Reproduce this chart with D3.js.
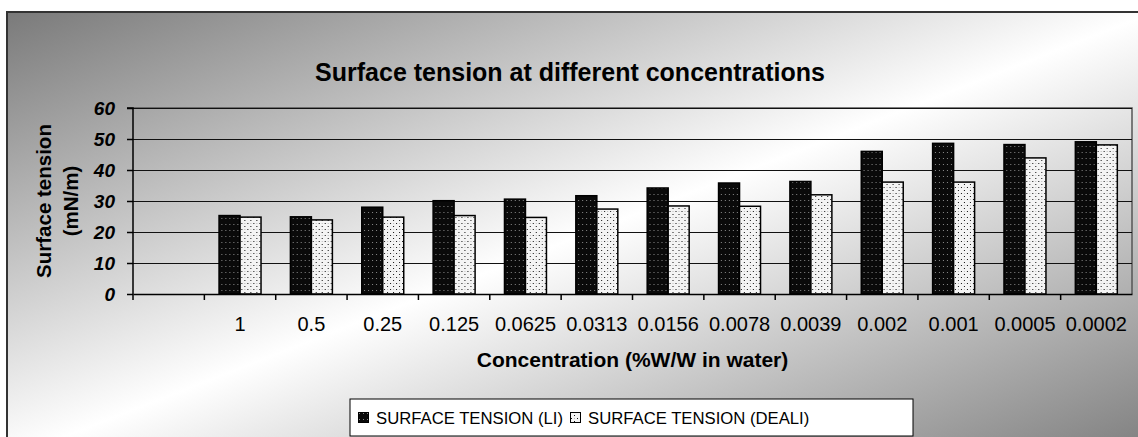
<!DOCTYPE html>
<html>
<head>
<meta charset="utf-8">
<script src="https://cdn.jsdelivr.net/npm/d3@7"></script>
<style>
	body { margin:0; padding:0; background:#fff; }
	text { font-family: Arial, "Liberation Sans", sans-serif; fill:#000; }
</style>
</head>
<body>
<div id="chart"></div>
<script>
'use strict';

// data
var categories = ['', '1', '0.5', '0.25', '0.125', '0.0625', '0.0313', '0.0156', '0.0078', '0.0039', '0.002', '0.001', '0.0005', '0.0002'];
var seriesNames = ['SURFACE TENSION (LI)', 'SURFACE TENSION (DEALI)'];
var tensionLI =    [null, 25.3, 24.9, 28.0, 30.1, 30.6, 31.7, 34.2, 35.8, 36.3, 46.0, 48.6, 48.2, 49.1];
var tensionDEALI = [null, 24.8, 23.9, 24.8, 25.3, 24.7, 27.4, 28.4, 28.3, 32.0, 36.1, 36.1, 43.9, 48.1];
var yTicks = [0, 10, 20, 30, 40, 50, 60];

main();

function main(){
	//configuration
	var width = 1138,
		height = 437,
		margin = {
			top:108,
			left:133,
			bottom:143,
			right:6
		},
		plotW = width - margin.left - margin.right,
		plotH = height - margin.top - margin.bottom;

	var svg = d3.select('#chart')
		.append('svg')
			.attr('width', width)
			.attr('height', height);

	var defs = svg.append('defs');

	var grad = defs.append('linearGradient')
		.attr('id', 'bg')
		.attr('x1', 0).attr('y1', 0)
		.attr('x2', 1).attr('y2', 1);
	grad.append('stop').attr('offset', 0).attr('stop-color', '#7a7a7a');
	grad.append('stop').attr('offset', 0.5).attr('stop-color', '#ffffff');
	grad.append('stop').attr('offset', 1).attr('stop-color', '#7c7c7c');

	// dotted fills
	var pDark = defs.append('pattern')
		.attr('id', 'dark')
		.attr('patternUnits', 'userSpaceOnUse')
		.attr('width', 4).attr('height', 6);
	pDark.append('rect').attr('width', 4).attr('height', 6).attr('fill', '#0a0a0a');
	pDark.append('rect').attr('x', 1).attr('y', 2).attr('width', 1).attr('height', 1).attr('fill', '#8a8a8a');

	var pLight = defs.append('pattern')
		.attr('id', 'light')
		.attr('patternUnits', 'userSpaceOnUse')
		.attr('width', 6).attr('height', 6);
	pLight.append('rect').attr('width', 6).attr('height', 6).attr('fill', '#f4f4f4');
	pLight.append('rect').attr('x', 1).attr('y', 1).attr('width', 1).attr('height', 1).attr('fill', '#111');
	pLight.append('rect').attr('x', 4).attr('y', 4).attr('width', 1).attr('height', 1).attr('fill', '#111');
	pLight.append('rect').attr('x', 4).attr('y', 1).attr('width', 1).attr('height', 1).attr('fill', '#bbb');

	var fills = ['url(#dark)', 'url(#light)'];

	// chart area background
	svg.append('rect')
		.attr('x', 7)
		.attr('y', 12)
		.attr('width', width + 10)
		.attr('height', height + 10)
		.attr('fill', 'url(#bg)')
		.attr('stroke', '#333')
		.attr('stroke-width', 2);

	svg.append('text')
		.attr('x', 570)
		.attr('y', 81)
		.attr('text-anchor', 'middle')
		.style('font-size', '25px')
		.style('font-weight', 'bold')
		.text('Surface tension at different concentrations');

	var g = svg.append('g')
		.attr('transform', 'translate(' + margin.left + ',' + margin.top + ')');

	var x = d3.scaleBand()
		.domain(categories.map(function(d, i){ return i; }))
		.range([0, plotW])
		.paddingInner(0)
		.paddingOuter(0);

	var xs = d3.scaleBand()
		.domain([0, 1])
		.range([0, x.bandwidth()])
		.paddingInner(0)
		.paddingOuter(0.7);

	var y = d3.scaleLinear()
		.domain([0, 60])
		.range([plotH, 0]);

	// plot area frame (top and right)
	g.append('path')
		.attr('d', 'M0,0H' + plotW + 'V' + plotH)
		.attr('fill', 'none')
		.attr('stroke', '#555')
		.attr('stroke-width', 1.5);

	// gridlines
	g.selectAll('.grid')
		.data(yTicks.slice(1))
			.enter()
		.append('line')
			.attr('class', 'grid')
			.attr('x1', 0)
			.attr('x2', plotW)
			.attr('y1', function(d){ return Math.round(y(d)) + 0.5; })
			.attr('y2', function(d){ return Math.round(y(d)) + 0.5; })
			.attr('stroke', '#111')
			.attr('stroke-width', 1);

	// bars
	var rows = categories.map(function(c, i){
		return { i: i, values: [tensionLI[i], tensionDEALI[i]] };
	});

	var groups = g.selectAll('.mark')
		.data(rows)
			.enter()
		.append('g')
			.attr('class', 'mark')
			.attr('transform', function(d){ return 'translate(' + x(d.i) + ',0)'; });

	groups.selectAll('rect')
		.data(function(d){
			return d.values.map(function(v, s){ return { s: s, v: v }; })
				.filter(function(e){ return e.v !== null; });
		})
			.enter()
		.append('rect')
			.attr('x', function(d){ return xs(d.s); })
			.attr('y', function(d){ return y(d.v); })
			.attr('width', xs.bandwidth())
			.attr('height', function(d){ return plotH - y(d.v); })
			.attr('fill', function(d){ return fills[d.s]; })
			.attr('stroke', '#000')
			.attr('stroke-width', 1.5);

	// y axis
	var yAxis = g.append('g')
		.call(d3.axisLeft(y).tickValues(yTicks).tickSize(6).tickPadding(12));
	yAxis.select('.domain').attr('d', 'M-6,0H0V' + (plotH + 6)).attr('stroke', '#000').attr('stroke-width', 1.5);
	yAxis.selectAll('.tick line').attr('stroke', '#000').attr('stroke-width', 1.5);
	yAxis.selectAll('.tick text')
		.style('font-size', '19px')
		.style('font-weight', 'bold')
		.style('font-style', 'italic')
		.attr('font-family', null);

	// x axis
	var xAxis = g.append('g')
		.attr('transform', 'translate(0,' + plotH + ')')
		.call(d3.axisBottom(x).tickSize(0).tickPadding(23).tickFormat(function(i){ return categories[i]; }));
	xAxis.select('.domain').attr('stroke', '#000').attr('stroke-width', 1.5);
	xAxis.selectAll('.tick text')
		.style('font-size', '20px')
		.attr('font-family', null);

	g.selectAll('.xtick')
		.data(categories.slice(1))
			.enter()
		.append('line')
			.attr('class', 'xtick')
			.attr('x1', function(d, i){ return x(i + 1); })
			.attr('x2', function(d, i){ return x(i + 1); })
			.attr('y1', plotH)
			.attr('y2', plotH + 6)
			.attr('stroke', '#000')
			.attr('stroke-width', 1.5);

	// axis titles
	svg.append('text')
		.attr('x', margin.left + plotW / 2)
		.attr('y', 367)
		.attr('text-anchor', 'middle')
		.style('font-size', '21px')
		.style('font-weight', 'bold')
		.text('Concentration (%W/W in water)');

	var yTitle = svg.append('text')
		.attr('transform', 'translate(51,' + (margin.top + plotH / 2) + ') rotate(-90)')
		.attr('text-anchor', 'middle')
		.style('font-size', '20.5px')
		.style('font-weight', 'bold');
	yTitle.append('tspan').attr('x', 0).attr('dy', 0).text('Surface tension');
	yTitle.append('tspan').attr('x', 0).attr('dy', 27).text('(mN/m)');

	// legend
	var legend = svg.append('g')
		.attr('transform', 'translate(350,399)');
	legend.append('rect')
		.attr('width', 563)
		.attr('height', 37)
		.attr('fill', '#fff')
		.attr('stroke', '#000')
		.attr('stroke-width', 1);

	var item = legend.selectAll('.item')
		.data(seriesNames)
			.enter()
		.append('g')
			.attr('class', 'item')
			.attr('transform', function(d, i){ return 'translate(' + (8 + i * 212) + ',0)'; });
	item.append('rect')
		.attr('x', 0.5)
		.attr('y', 13.5)
		.attr('width', 10)
		.attr('height', 10)
		.attr('fill', function(d, i){ return fills[i]; })
		.attr('stroke', '#000')
		.attr('stroke-width', 1);
	item.append('text')
		.attr('x', 18)
		.attr('y', 25)
		.style('font-size', '16.7px')
		.text(function(d){ return d; });
}
</script>
</body>
</html>
